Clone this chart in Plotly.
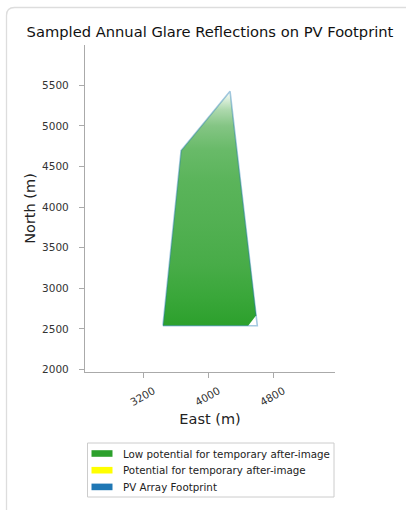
import plotly.graph_objects as go

# PV array footprint (East, North) in metres
footprint_east = [3440, 4603, 4267, 3664, 3440]
footprint_north = [2540, 2540, 5426, 4696, 2540]

# area hit by sampled glare reflections (bottom-right corner not reached)
glare_east = [3440, 4490, 4590, 4267, 3664, 3440]
glare_north = [2540, 2540, 2670, 5426, 4696, 2540]

# how dense the reflections look going north: (north, rgb)
density_north = [2540, 2900, 3300, 3800, 4300, 4700, 5000, 5200, 5330, 5426]
density_color = ["#2ca02c", "#3aa73a", "#48ac48", "#52b052", "#5ab45a",
                 "#68ba68", "#84c584", "#aed9ae", "#dcefdc", "#ffffff"]

legend_names = ["Low potential for temporary after-image",
                "Potential for temporary after-image",
                "PV Array Footprint"]
legend_colors = ["#2ca02c", "#ffff00", "#1f77b4"]

W, H = 406, 510
L, R, T, B = 85, 71, 45, 138
FONT = "DejaVu Sans"

lo, hi = min(density_north), max(density_north)
cscale = [[(n - lo) / (hi - lo), c] for n, c in zip(density_north, density_color)]

fig = go.Figure()
fig.add_trace(go.Scatter(
    x=glare_east, y=glare_north, mode="none", fill="toself",
    fillgradient=dict(type="vertical", colorscale=cscale, start=lo, stop=hi),
    showlegend=False, hoverinfo="skip"))
fig.add_trace(go.Scatter(
    x=footprint_east, y=footprint_north, mode="lines",
    line=dict(color="rgba(31,119,180,0.4)", width=1.6),
    showlegend=False, hoverinfo="skip"))

# pixel -> paper helpers for the decorations
def px_x(p): return (p - L) / (W - L - R)
def px_y(p): return (H - B - p) / (H - T - B)

# card frame around the figure
x0, y0, r = 6.5, 7.5, 8
path = (f"M {px_x(x0)},{px_y(H + 5)} L {px_x(x0)},{px_y(y0 + r)} "
        f"Q {px_x(x0)},{px_y(y0)} {px_x(x0 + r)},{px_y(y0)} L {px_x(W + 5)},{px_y(y0)}")
fig.add_shape(type="path", path=path, xref="paper", yref="paper",
              line=dict(color="#dddddd", width=1.3))

# legend drawn as a matplotlib-style box below the axes
fig.add_shape(type="rect", xref="paper", yref="paper",
              x0=px_x(87.5), x1=px_x(334), y0=px_y(497), y1=px_y(443),
              line=dict(color="#cccccc", width=1), fillcolor="white")
for i, (name, col) in enumerate(zip(legend_names, legend_colors)):
    cy = 453.5 + i * 16.7
    fig.add_shape(type="rect", xref="paper", yref="paper",
                  x0=px_x(91.5), x1=px_x(112.5), y0=px_y(cy + 3.3), y1=px_y(cy - 3.3),
                  line=dict(width=0), fillcolor=col)
    fig.add_annotation(text=name, xref="paper", yref="paper", x=px_x(120.5), y=px_y(cy),
                       xanchor="left", yanchor="middle", showarrow=False,
                       font=dict(family=FONT, size=10.3, color="#222222"))

axis_common = dict(showgrid=False, zeroline=False, showline=True, linecolor="#aaaaaa",
                   linewidth=1.2, ticks="outside", ticklen=5, tickcolor="#aaaaaa",
                   tickfont=dict(family=FONT, size=10.5, color="#333333"), mirror=False)
fig.update_xaxes(range=[2480, 5560], tickvals=[3200, 4000, 4800], tickangle=-30,
                 ticklabelstandoff=3, ticklabelshift=10,
                 title=dict(text="East (m)", font=dict(family=FONT, size=14.5, color="#222222"),
                            standoff=6), **axis_common)
fig.update_yaxes(range=[1970, 5995], tickvals=[2000, 2500, 3000, 3500, 4000, 4500, 5000, 5500],
                 ticklabelstandoff=8,
                 title=dict(text="North (m)", font=dict(family=FONT, size=14.5, color="#222222"),
                            standoff=2), **axis_common)

fig.update_layout(
    width=W, height=H, margin=dict(l=L, r=R, t=T, b=B),
    paper_bgcolor="white", plot_bgcolor="white",
    font=dict(family=FONT, color="#222222"),
    showlegend=False,
    title=dict(text="Sampled Annual Glare Reflections on PV Footprint",
               font=dict(family=FONT, size=14.7, color="#111111"),
               x=0.5, xref="paper", xanchor="center", y=1 - 32 / H, yref="container",
               yanchor="middle"),
)
fig.write_html("out.html", config={"displayModeBar": False},
               post_script="document.body.style.margin='0';")
